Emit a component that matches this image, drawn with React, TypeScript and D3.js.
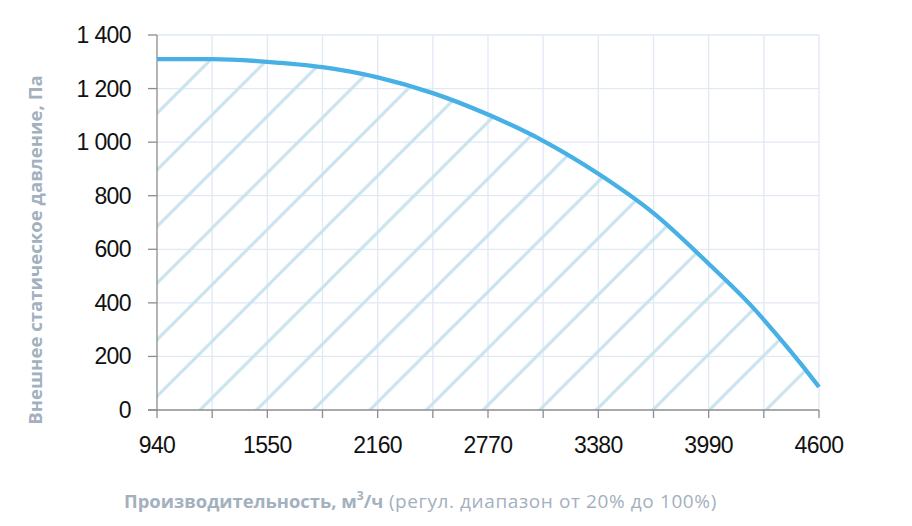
import React from "react";
import * as d3 from "d3";

const flowValues = [940, 1245, 1550, 1855, 2160, 2465, 2770, 3075, 3380, 3685, 3990, 4230, 4375, 4512, 4600];
const pressureValues = [1310, 1310, 1300, 1280, 1242, 1183, 1103, 1005, 882, 735, 546, 386, 274, 162, 86];
const xTickValues = [940, 1245, 1550, 1855, 2160, 2465, 2770, 3075, 3380, 3685, 3990, 4295, 4600];
const xLabelValues = [940, 1550, 2160, 2770, 3380, 3990, 4600];
const yTickValues = [0, 200, 400, 600, 800, 1000, 1200, 1400];
const yTitle = "Внешнее статическое давление, Па";
const xTitleBold = "Производительность, м";
const xTitleSup = "3";
const xTitleBold2 = "/ч";
const xTitleRegular = " (регул. диапазон от 20% до 100%)";

const W = 912;
const H = 526;
const margin = { left: 157, right: 93, top: 35, bottom: 116 };

export default function App() {
  const x = d3.scaleLinear().domain([940, 4600]).range([margin.left, W - margin.right]);
  const y = d3.scaleLinear().domain([0, 1400]).range([H - margin.bottom, margin.top]);
  const data = flowValues.map((f, i) => ({ f, p: pressureValues[i] }));
  const line = d3
    .line<{ f: number; p: number }>()
    .x((d) => x(d.f))
    .y((d) => y(d.p))
    .curve(d3.curveMonotoneX);
  const area = d3
    .area<{ f: number; p: number }>()
    .x((d) => x(d.f))
    .y0(y(0))
    .y1((d) => y(d.p))
    .curve(d3.curveMonotoneX);
  const fmt = (v: number) => d3.format(",")(v).replace(/,/g, " ");
  const w = 56.6;
  const axisColor = "#8c8c8c";
  const gridColor = "#e1e9f4";
  const labelFont = "'Liberation Sans', Arial, sans-serif";
  const titleColor = "#a3b0be";

  return (
    <svg width={W} height={H} style={{ position: "absolute", left: 0, top: 0 }}>
      <defs>
        <pattern id="hatch" patternUnits="userSpaceOnUse" width={w} height={w} x={44} y={0}>
          <path
            d={`M${-w / 4},${w / 4} l${w / 2},${-w / 2} M0,${w} l${w},${-w} M${(3 * w) / 4},${(5 * w) / 4} l${w / 2},${-w / 2}`}
            stroke="#c9e3ee"
            strokeWidth={3}
          />
        </pattern>
      </defs>
      <rect width={W} height={H} fill="#fff" />
      {yTickValues.slice(1).map((v) => (
        <line key={"gy" + v} x1={x(940)} x2={x(4600)} y1={y(v)} y2={y(v)} stroke={gridColor} strokeWidth={1.3} />
      ))}
      {xTickValues.slice(1).map((v) => (
        <line key={"gx" + v} x1={x(v)} x2={x(v)} y1={y(0)} y2={y(1400)} stroke={gridColor} strokeWidth={1.3} />
      ))}
      <path d={area(data) || ""} fill="url(#hatch)" />
      <line x1={x(940)} x2={x(940)} y1={y(0)} y2={y(1400)} stroke={axisColor} strokeWidth={1.3} />
      <line x1={x(940) - 9} x2={x(4600)} y1={y(0)} y2={y(0)} stroke={axisColor} strokeWidth={1.3} />
      {yTickValues.map((v) => (
        <g key={"yt" + v}>
          <line x1={x(940) - 9} x2={x(940)} y1={y(v)} y2={y(v)} stroke={axisColor} strokeWidth={1.3} />
          <text
            x={131}
            y={y(v)}
            dy="0.35em"
            textAnchor="end"
            fontFamily={labelFont}
            fontSize={23}
            letterSpacing={-0.6}
            fill="#111"
          >
            {fmt(v)}
          </text>
        </g>
      ))}
      {xTickValues.map((v) => (
        <line key={"xt" + v} x1={x(v)} x2={x(v)} y1={y(0)} y2={y(0) + 8} stroke={axisColor} strokeWidth={1.3} />
      ))}
      {xLabelValues.map((v) => (
        <text
          key={"xl" + v}
          x={x(v)}
          y={453}
          textAnchor="middle"
          fontFamily={labelFont}
          fontSize={23}
          letterSpacing={-0.6}
          fill="#111"
        >
          {v}
        </text>
      ))}
      <path d={line(data) || ""} fill="none" stroke="#47b0e4" strokeWidth={4.3} />
      <text
        transform="translate(42,250) rotate(-90)"
        textAnchor="middle"
        fontFamily="'Open Sans', sans-serif"
        fontWeight="bold"
        fontSize={18.6}
        fill={titleColor}
      >
        {yTitle}
      </text>
      <text x={124} y={508} fontFamily="'Open Sans', sans-serif" fontSize={18.4} fill={titleColor}>
        <tspan fontWeight="bold">{xTitleBold}</tspan>
        <tspan fontWeight="bold" fontSize={12} dy={-8}>
          {xTitleSup}
        </tspan>
        <tspan fontWeight="bold" dy={8}>
          {xTitleBold2}
        </tspan>
        <tspan fontSize={19} letterSpacing={0.6}>
          {xTitleRegular}
        </tspan>
      </text>
    </svg>
  );
}
